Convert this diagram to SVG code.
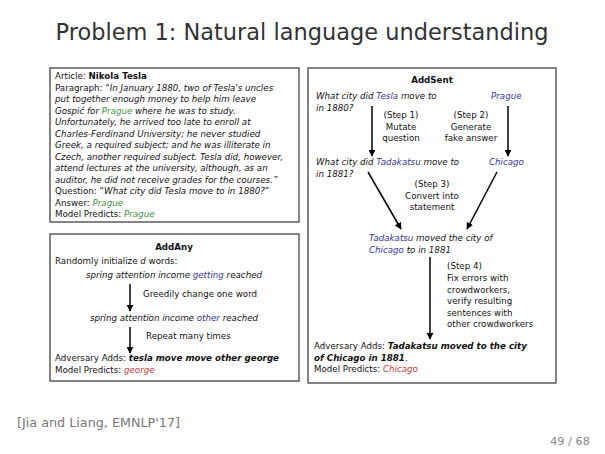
<svg xmlns="http://www.w3.org/2000/svg" width="605" height="454" viewBox="0 0 605 454">
<defs>
<marker id="ah" viewBox="0 0 10 10" refX="9" refY="5" markerWidth="7" markerHeight="7" markerUnits="userSpaceOnUse" orient="auto">
<path d="M0,0 L10,5 L0,10 z" fill="#000"/>
</marker>
<style>
.t{font-family:"DejaVu Sans",sans-serif;font-size:8.7px;fill:#111}
.i{font-style:italic}
.b{font-weight:bold}
.c{text-anchor:middle}
.g{fill:#3d8f3d}
.bl{fill:#34349a}
.r{fill:#c23a3a}
.box{fill:#fff;stroke:#333;stroke-width:1.2}
.ar{stroke:#000;stroke-width:1.5;fill:none;marker-end:url(#ah)}
</style>
</defs>
<rect width="605" height="454" fill="#fff"/>
<text x="302" y="40" text-anchor="middle" font-family="DejaVu Sans, sans-serif" font-size="23" fill="#333" textLength="493" lengthAdjust="spacingAndGlyphs">Problem 1: Natural language understanding</text>

<g id="article">
<rect class="box" x="50" y="68" width="249" height="154"/>
<text class="t" x="55" y="79">Article: <tspan class="b">Nikola Tesla</tspan></text>
<text class="t" x="55" y="90.5">Paragraph: “<tspan class="i">In January 1880, two of Tesla's uncles</tspan></text>
<text class="t i" x="55" y="102">put together enough money to help him leave</text>
<text class="t i" x="55" y="113.5">Gospić for <tspan class="g">Prague</tspan> where he was to study.</text>
<text class="t i" x="55" y="125">Unfortunately, he arrived too late to enroll at</text>
<text class="t i" x="55" y="136.5">Charles-Ferdinand University; he never studied</text>
<text class="t i" x="55" y="148">Greek, a required subject; and he was illiterate in</text>
<text class="t i" x="55" y="159.5">Czech, another required subject. Tesla did, however,</text>
<text class="t i" x="55" y="171">attend lectures at the university, although, as an</text>
<text class="t i" x="55" y="182.5">auditor, he did not receive grades for the courses.”</text>
<text class="t" x="55" y="194">Question: “<tspan class="i">What city did Tesla move to in 1880?</tspan>”</text>
<text class="t" x="55" y="205.5">Answer: <tspan class="i g">Prague</tspan></text>
<text class="t" x="55" y="217">Model Predicts: <tspan class="i g">Prague</tspan></text>
</g>

<g id="addany">
<rect class="box" x="50" y="234" width="249" height="147"/>
<text class="t b c" x="174" y="250">AddAny</text>
<text class="t" x="55" y="264">Randomly initialize <tspan class="i">d</tspan> words:</text>
<text class="t i c" x="174" y="278">spring attention income <tspan class="bl">getting</tspan> reached</text>
<text class="t" x="143" y="297">Greedily change one word</text>
<text class="t i c" x="174" y="321">spring attention income <tspan class="bl">other</tspan> reached</text>
<text class="t" x="146" y="339">Repeat many times</text>
<text class="t" x="55" y="361">Adversary Adds: <tspan class="i b">tesla move move other george</tspan></text>
<text class="t" x="55" y="373">Model Predicts: <tspan class="i r">george</tspan></text>
</g>

<g id="addsent">
<rect class="box" x="308" y="68" width="248" height="315"/>
<text class="t b c" x="432" y="83">AddSent</text>
<text class="t i" x="316" y="99">What city did <tspan class="bl">Tesla</tspan> move to</text>
<text class="t i" x="316" y="110.5">in 1880?</text>
<text class="t i bl" x="491" y="99">Prague</text>
<text class="t c" x="401" y="118">(Step 1)</text>
<text class="t c" x="401" y="129.5">Mutate</text>
<text class="t c" x="401" y="141">question</text>
<text class="t c" x="471" y="118">(Step 2)</text>
<text class="t c" x="471" y="129.5">Generate</text>
<text class="t c" x="471" y="141">fake answer</text>
<text class="t i" x="316" y="165">What city did <tspan class="bl">Tadakatsu</tspan> move to</text>
<text class="t i" x="316" y="176.5">in 1881?</text>
<text class="t i bl" x="489" y="165">Chicago</text>
<text class="t c" x="432" y="187">(Step 3)</text>
<text class="t c" x="432" y="198.5">Convert into</text>
<text class="t c" x="432" y="210">statement</text>
<text class="t i" x="369" y="241"><tspan class="bl">Tadakatsu</tspan> moved the city of</text>
<text class="t i" x="369" y="252.5"><tspan class="bl">Chicago</tspan> to in 1881</text>
<text class="t" x="447" y="269">(Step 4)</text>
<text class="t" x="447" y="281">Fix errors with</text>
<text class="t" x="447" y="292.5">crowdworkers,</text>
<text class="t" x="447" y="304">verify resulting</text>
<text class="t" x="447" y="315.5">sentences with</text>
<text class="t" x="447" y="327">other crowdworkers</text>
<text class="t" x="314" y="349">Adversary Adds: <tspan class="i b">Tadakatsu moved to the city</tspan></text>
<text class="t" x="314" y="360.5"><tspan class="i b">of Chicago in 1881</tspan>.</text>
<text class="t" x="314" y="372">Model Predicts: <tspan class="i r">Chicago</tspan></text>
</g>

<g id="connectors">
<line class="ar" x1="130" y1="284" x2="130" y2="311"/>
<line class="ar" x1="130" y1="327" x2="130" y2="353"/>
<line class="ar" x1="372" y1="106" x2="372" y2="156"/>
<line class="ar" x1="508" y1="106" x2="508" y2="156"/>
<line class="ar" x1="368" y1="172" x2="401" y2="229"/>
<line class="ar" x1="497" y1="172" x2="467" y2="229"/>
<line class="ar" x1="430" y1="257" x2="430" y2="339"/>
</g>

<text x="17" y="427" font-family="DejaVu Sans, sans-serif" font-size="11.5" fill="#777" textLength="163" lengthAdjust="spacingAndGlyphs">[Jia and Liang, EMNLP'17]</text>
<text x="550" y="445" font-family="DejaVu Sans, sans-serif" font-size="10" fill="#888" textLength="40" lengthAdjust="spacingAndGlyphs">49 / 68</text>
</svg>
